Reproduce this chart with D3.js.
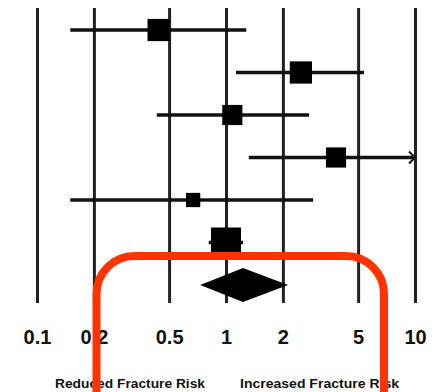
<!DOCTYPE html>
<html>
<head>
<meta charset="utf-8">
<script src="https://cdn.jsdelivr.net/npm/d3@7"></script>
<style>
  html, body { margin: 0; padding: 0; background: #fff; }
  svg { display: block; }
  text { font-family: "Liberation Sans", Arial, sans-serif; font-weight: bold; fill: #111; }
</style>
</head>
<body>
<svg id="chart" width="433" height="392"></svg>
<script>
// Study-level odds ratios with 95% confidence intervals
const studies = ["S1", "S2", "S3", "S4", "S5", "S6"];
const oddsRatio = [0.44, 2.49, 1.08, 3.82, 0.67, 1.0];
const ciLower = [0.15, 1.13, 0.43, 1.32, 0.15, 0.81];
const ciUpper = [1.28, 5.37, 2.75, 15, 2.89, 1.23];
const weights = [17, 17, 14, 14, 7, 31];

// Pooled estimate
const pooled = [1.23, 0.73, 2.13]; // [estimate, lower, upper]

// Axis
const tickValues = [0.1, 0.2, 0.5, 1, 2, 5, 10];
const tickLabels = ["0.1", "0.2", "0.5", "1", "2", "5", "10"];
const sideLabels = ["Reduced Fracture Risk", "Increased Fracture Risk"];

const svg = d3.select("#chart");
const W = 433, H = 392;
const gridTop = 8, gridBottom = 303;

const x = d3.scaleLog().domain([0.1, 10]).range([37, 415]);
const rows = studies.concat(["pooled"]);
const y = d3.scalePoint().domain(rows).range([30, 285]);
const size = d3.scaleSqrt().domain([0, d3.max(weights)]).range([0, 30]);

// Vertical reference lines + tick labels
const axis = d3.axisBottom(x)
  .tickValues(tickValues)
  .tickFormat((d, i) => tickLabels[i])
  .tickSizeInner(-(gridBottom - gridTop))
  .tickSizeOuter(0)
  .tickPadding(27);

const gAxis = svg.append("g")
  .attr("transform", `translate(0,${gridBottom})`)
  .call(axis);
gAxis.select(".domain").remove();
gAxis.selectAll(".tick line")
  .attr("stroke", "#222")
  .attr("stroke-width", 3);
gAxis.selectAll(".tick text")
  .attr("font-size", 20)
  .attr("font-weight", "bold")
  .attr("font-family", "'Liberation Sans', Arial, sans-serif")
  .attr("fill", "#111");

const maxX = x.range()[1];

// Confidence interval lines
const studyData = studies.map((s, i) => ({
  s, or: oddsRatio[i], lo: ciLower[i], hi: ciUpper[i], w: weights[i]
}));

svg.append("g").selectAll("line")
  .data(studyData)
  .join("line")
  .attr("x1", d => x(d.lo))
  .attr("x2", d => Math.min(x(d.hi), maxX))
  .attr("y1", d => y(d.s))
  .attr("y2", d => y(d.s))
  .attr("stroke", "#111")
  .attr("stroke-width", 3.5);

// Arrowheads for intervals running off the scale
svg.append("g").selectAll("path")
  .data(studyData.filter(d => x(d.hi) > maxX))
  .join("path")
  .attr("d", d => {
    const yy = y(d.s);
    return `M${maxX - 6},${yy - 6} L${maxX},${yy} L${maxX - 6},${yy + 6}`;
  })
  .attr("fill", "none")
  .attr("stroke", "#111")
  .attr("stroke-width", 2);

// Weighted squares
svg.append("g").selectAll("rect")
  .data(studyData)
  .join("rect")
  .attr("x", d => x(d.or) - size(d.w) / 2)
  .attr("y", d => y(d.s) - size(d.w) / 2)
  .attr("width", d => size(d.w))
  .attr("height", d => size(d.w))
  .attr("fill", "#000");

// Pooled diamond
const py = y("pooled");
svg.append("path")
  .attr("d", `M${x(pooled[1])},${py} L${x(pooled[0])},${py - 17} L${x(pooled[2])},${py} L${x(pooled[0])},${py + 17} Z`)
  .attr("fill", "#000");

// Side captions
const captionY = 388;
svg.append("text")
  .attr("x", 55).attr("y", captionY)
  .attr("font-size", 13)
  .attr("textLength", 150)
  .attr("lengthAdjust", "spacingAndGlyphs")
  .text(sideLabels[0]);
svg.append("text")
  .attr("x", 240).attr("y", captionY)
  .attr("font-size", 13)
  .attr("textLength", 159)
  .attr("lengthAdjust", "spacingAndGlyphs")
  .text(sideLabels[1]);

// Highlight frame
const fx0 = 96.5, fx1 = 384, fy0 = 256, r = 38, fy1 = H + 20;
svg.append("path")
  .attr("d", `M${fx0},${fy1} L${fx0},${fy0 + r} A${r},${r} 0 0 1 ${fx0 + r},${fy0} L${fx1 - r},${fy0} A${r},${r} 0 0 1 ${fx1},${fy0 + r} L${fx1},${fy1}`)
  .attr("fill", "none")
  .attr("stroke", "#ff3300")
  .attr("stroke-width", 8);
</script>
</body>
</html>
